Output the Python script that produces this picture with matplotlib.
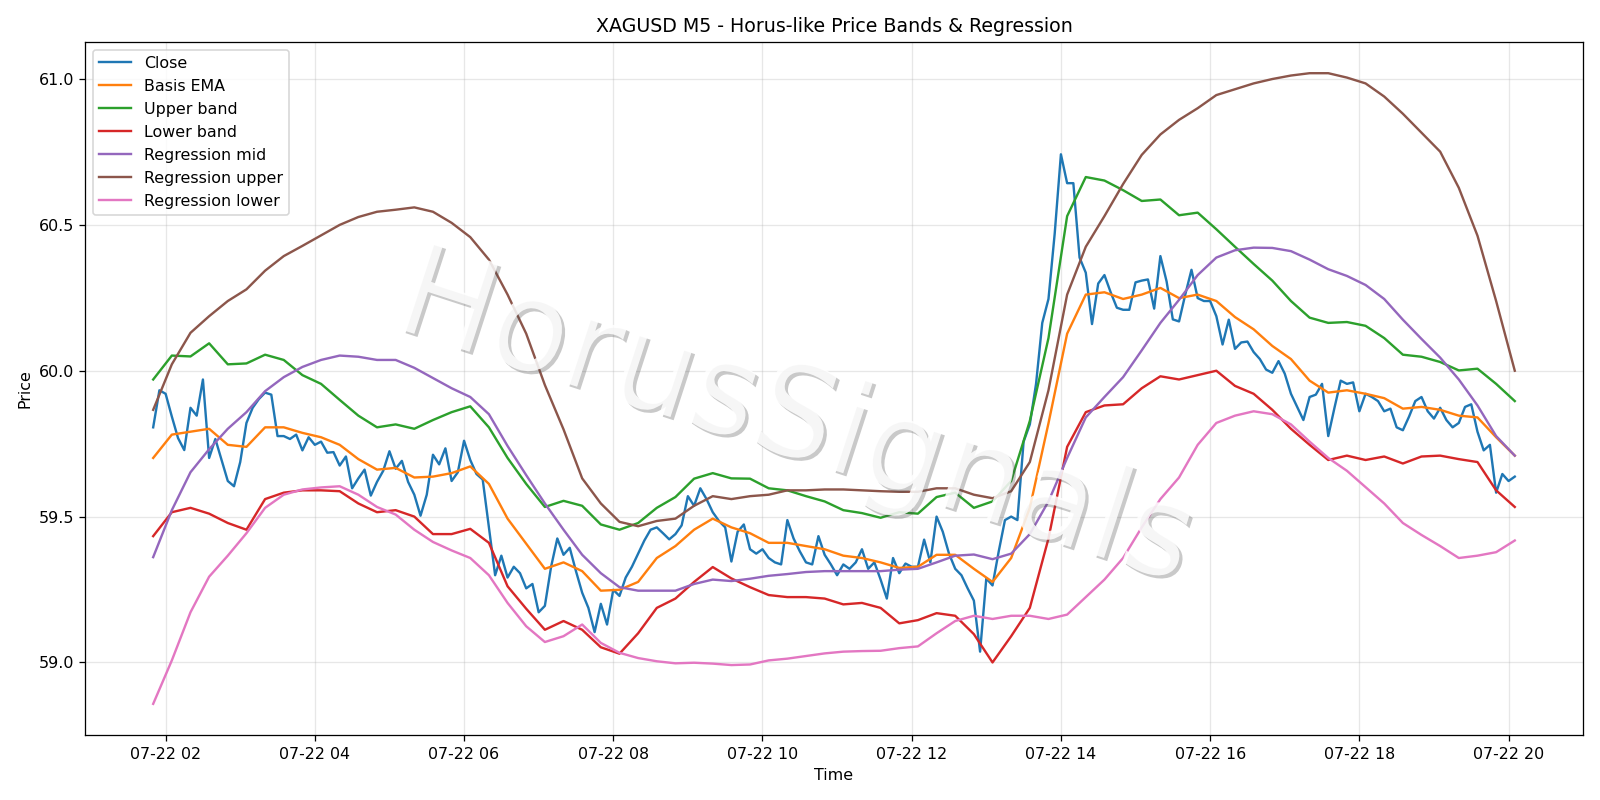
import matplotlib
matplotlib.use("Agg")
import matplotlib.pyplot as plt
import matplotlib.dates as mdates
import matplotlib.patheffects as pe
import pandas as pd

# 5-minute close prices, 07-22 01:50 .. 20:05
close = [
    59.806, 59.933, 59.921, 59.843, 59.769, 59.728, 59.873, 59.846, 59.970, 59.701,
    59.766, 59.694, 59.622, 59.604, 59.687, 59.821, 59.873, 59.903, 59.925, 59.918,
    59.776, 59.776, 59.766, 59.781, 59.727, 59.772, 59.746, 59.757, 59.719, 59.721,
    59.675, 59.706, 59.597, 59.631, 59.661, 59.572, 59.619, 59.657, 59.724,
    59.664, 59.691, 59.619, 59.575, 59.503, 59.575, 59.712, 59.679, 59.734, 59.622,
    59.652, 59.760, 59.694, 59.646, 59.627, 59.463, 59.299, 59.366, 59.291, 59.328,
    59.306, 59.254, 59.269, 59.172, 59.194, 59.328, 59.425, 59.369, 59.393, 59.313,
    59.239, 59.187, 59.104, 59.201, 59.130, 59.249, 59.228, 59.291,
    59.328, 59.373, 59.418, 59.455, 59.463, 59.443, 59.422, 59.440, 59.470, 59.570,
    59.537, 59.597, 59.560, 59.515, 59.485, 59.463, 59.346, 59.448, 59.473, 59.388,
    59.373, 59.388, 59.358, 59.343, 59.336, 59.488, 59.425, 59.381, 59.343, 59.336,
    59.433, 59.369, 59.336, 59.299, 59.336, 59.321, 59.343, 59.388, 59.321,
    59.343, 59.284, 59.219, 59.358, 59.306, 59.339, 59.328, 59.328, 59.421, 59.343,
    59.500, 59.448, 59.373, 59.321, 59.299, 59.254, 59.212, 59.037, 59.288, 59.264,
    59.381, 59.488, 59.500, 59.488, 59.757, 59.816, 59.955, 60.164, 60.246, 60.470,
    60.742, 60.643, 60.643, 60.388, 60.336, 60.160, 60.299, 60.328,
    60.269, 60.216, 60.209, 60.209, 60.303, 60.309, 60.313, 60.213, 60.393, 60.306,
    60.176, 60.169, 60.261, 60.346, 60.249, 60.239, 60.239, 60.187, 60.090, 60.175,
    60.075, 60.097, 60.100, 60.064, 60.040, 60.004, 59.993, 60.033, 59.990, 59.921,
    59.876, 59.831, 59.910, 59.918, 59.955,
    59.776, 59.873, 59.966, 59.955, 59.960, 59.861, 59.921, 59.910, 59.896, 59.861,
    59.870, 59.806, 59.796, 59.843, 59.896, 59.910, 59.861, 59.836, 59.873, 59.831,
    59.806, 59.821, 59.876, 59.885, 59.791, 59.727, 59.746, 59.582, 59.646, 59.622,
    59.637,
]

# indicator series sampled every 15 minutes, 01:50 .. 20:05
basis_ema = [
    59.701, 59.781, 59.791, 59.801, 59.746, 59.739, 59.806, 59.806, 59.787, 59.772, 59.746, 59.697, 59.661,
    59.667, 59.634, 59.637, 59.649, 59.672, 59.612, 59.493, 59.407, 59.321, 59.343, 59.313, 59.246, 59.249,
    59.276, 59.358, 59.399, 59.455, 59.493, 59.463, 59.443, 59.410, 59.410, 59.399, 59.388, 59.366, 59.358,
    59.343, 59.324, 59.328, 59.369, 59.369, 59.321, 59.276, 59.358, 59.530, 59.820, 60.127, 60.261, 60.269,
    60.246, 60.261, 60.284, 60.249, 60.261, 60.239, 60.184, 60.142, 60.085, 60.040, 59.966, 59.925, 59.933,
    59.921, 59.906, 59.870, 59.876, 59.866, 59.846, 59.840, 59.772, 59.709,
]
upper_band = [
    59.970, 60.052, 60.049, 60.094, 60.022, 60.025, 60.055, 60.037, 59.985, 59.955, 59.900, 59.846, 59.806,
    59.816, 59.801, 59.831, 59.858, 59.878, 59.806, 59.701, 59.612, 59.533, 59.554, 59.537, 59.473, 59.455,
    59.478, 59.530, 59.567, 59.630, 59.649, 59.631, 59.630, 59.597, 59.590, 59.570, 59.552, 59.522, 59.512,
    59.496, 59.515, 59.510, 59.567, 59.582, 59.530, 59.552, 59.622, 59.828, 60.112, 60.530, 60.664, 60.652,
    60.619, 60.582, 60.587, 60.533, 60.542, 60.485, 60.425, 60.366, 60.309, 60.239, 60.182, 60.164, 60.167,
    60.154, 60.112, 60.055, 60.048, 60.030, 60.001, 60.007, 59.955, 59.896,
]
lower_band = [
    59.433, 59.515, 59.530, 59.510, 59.478, 59.455, 59.560, 59.582, 59.590, 59.590, 59.587, 59.545, 59.515,
    59.522, 59.500, 59.440, 59.440, 59.458, 59.410, 59.261, 59.184, 59.112, 59.142, 59.112, 59.052, 59.030,
    59.100, 59.187, 59.219, 59.276, 59.327, 59.288, 59.258, 59.231, 59.224, 59.224, 59.219, 59.199, 59.204,
    59.187, 59.134, 59.145, 59.169, 59.160, 59.097, 59.000, 59.090, 59.187, 59.425, 59.739, 59.858, 59.881,
    59.885, 59.940, 59.981, 59.970, 59.985, 60.000, 59.948, 59.921, 59.866, 59.801, 59.746, 59.694, 59.709,
    59.694, 59.706, 59.682, 59.706, 59.709, 59.697, 59.687, 59.590, 59.533,
]
reg_mid = [
    59.361, 59.522, 59.652, 59.731, 59.801, 59.858, 59.930, 59.978, 60.013, 60.037, 60.052, 60.048, 60.037,
    60.037, 60.010, 59.975, 59.940, 59.910, 59.851, 59.742, 59.642, 59.545, 59.455, 59.369, 59.306, 59.258,
    59.246, 59.246, 59.246, 59.269, 59.284, 59.279, 59.287, 59.297, 59.303, 59.310, 59.313, 59.313, 59.313,
    59.313, 59.318, 59.321, 59.343, 59.366, 59.370, 59.354, 59.373, 59.440, 59.552, 59.701, 59.840, 59.910,
    59.978, 60.070, 60.164, 60.243, 60.328, 60.388, 60.413, 60.422, 60.421, 60.410, 60.381, 60.348, 60.325,
    60.294, 60.246, 60.175, 60.109, 60.045, 59.970, 59.881, 59.776, 59.709,
]
reg_upper = [
    59.866, 60.022, 60.130, 60.187, 60.239, 60.279, 60.343, 60.393, 60.428, 60.464, 60.500, 60.527, 60.545,
    60.552, 60.560, 60.545, 60.507, 60.458, 60.381, 60.261, 60.127, 59.951, 59.799, 59.631, 59.545, 59.482,
    59.467, 59.485, 59.493, 59.537, 59.570, 59.560, 59.570, 59.575, 59.590, 59.590, 59.593, 59.593, 59.590,
    59.587, 59.585, 59.585, 59.597, 59.597, 59.575, 59.563, 59.587, 59.687, 59.933, 60.261, 60.425, 60.530,
    60.640, 60.740, 60.810, 60.860, 60.900, 60.945, 60.965, 60.985, 61.000, 61.012, 61.020, 61.020, 61.005,
    60.985, 60.940, 60.881, 60.816, 60.751, 60.627, 60.463, 60.239, 60.000,
]
reg_lower = [
    58.858, 59.007, 59.172, 59.294, 59.366, 59.443, 59.530, 59.575, 59.593, 59.600, 59.604, 59.575, 59.533,
    59.507, 59.455, 59.413, 59.384, 59.358, 59.299, 59.204, 59.124, 59.070, 59.090, 59.130, 59.067, 59.033,
    59.015, 59.004, 58.997, 58.999, 58.996, 58.991, 58.993, 59.007, 59.013, 59.022, 59.031, 59.037, 59.039,
    59.040, 59.049, 59.055, 59.100, 59.142, 59.160, 59.149, 59.160, 59.160, 59.149, 59.164, 59.224, 59.284,
    59.358, 59.463, 59.560, 59.634, 59.746, 59.821, 59.846, 59.861, 59.851, 59.816, 59.757, 59.701, 59.657,
    59.601, 59.545, 59.478, 59.437, 59.399, 59.358, 59.366, 59.378, 59.418,
]

t_close = pd.date_range("2025-07-22 01:50", periods=len(close), freq="5min")
t_ind = pd.date_range("2025-07-22 01:50", periods=len(basis_ema), freq="15min")

fig, ax = plt.subplots(figsize=(14, 7), dpi=1600 / 14)
ax.plot(t_close, close, label="Close")
ax.plot(t_ind, basis_ema, label="Basis EMA")
ax.plot(t_ind, upper_band, label="Upper band")
ax.plot(t_ind, lower_band, label="Lower band")
ax.plot(t_ind, reg_mid, label="Regression mid")
ax.plot(t_ind, reg_upper, label="Regression upper")
ax.plot(t_ind, reg_lower, label="Regression lower")

ax.set_title("XAGUSD M5 - Horus-like Price Bands & Regression")
ax.set_xlabel("Time")
ax.set_ylabel("Price")
ax.grid(True, alpha=0.3)
ax.legend(loc="upper left")
ax.xaxis.set_major_locator(mdates.HourLocator(interval=2))
ax.xaxis.set_major_formatter(mdates.DateFormatter("%m-%d %H"))

fig.tight_layout()
fig.text(0.497, 0.474, "HorusSignals", fontsize=80, color="white", alpha=0.85,
         rotation=-18, ha="center", va="center",
         path_effects=[pe.withSimplePatchShadow()])

fig.savefig("out.png", dpi=1600 / 14)
